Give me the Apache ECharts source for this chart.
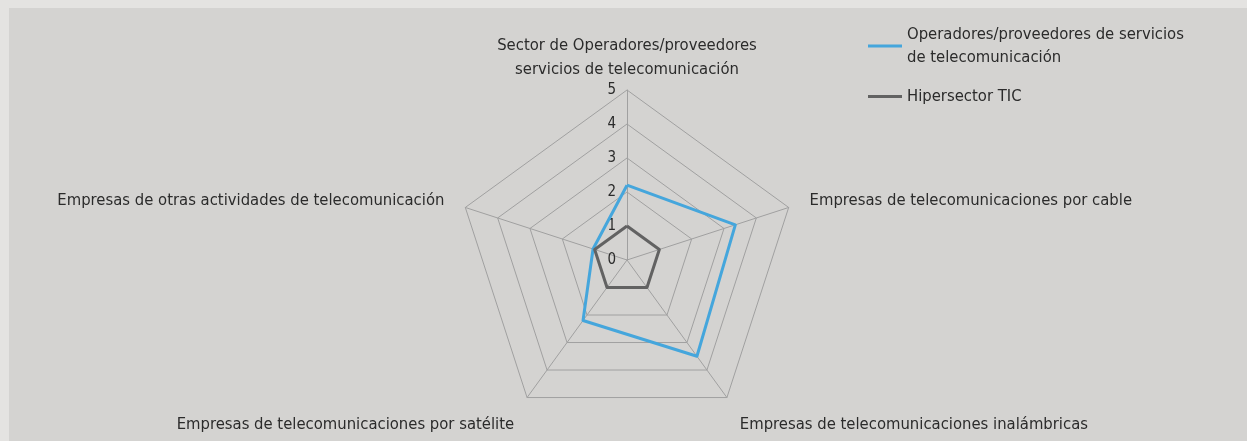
<!DOCTYPE html>
<html>
<head>
<meta charset="utf-8">
<script src="https://cdn.jsdelivr.net/npm/echarts@6/dist/echarts.min.js"></script>
<style>
    html, body { margin: 0; padding: 0; background: #e4e3e1; }
    #radarchart {
        position: absolute;
        left: 9px;
        top: 8px;
        width: 1238px;
        height: 433px;
        background: #d4d3d1;
    }
</style>
</head>
<body>
<div id="radarchart"></div>
<script>
// indicators in echarts order (counter-clockwise from the top)
var indicatorNames = [
    'Sector de Operadores/proveedores\nservicios de telecomunicación',
    'Empresas de otras actividades de telecomunicación',
    'Empresas de telecomunicaciones por satélite',
    'Empresas de telecomunicaciones inalámbricas',
    'Empresas de telecomunicaciones por cable'
];
var seriesNames = ['Operadores/proveedores de servicios\nde telecomunicación', 'Hipersector TIC'];
var operadores = [2.2, 1.05, 2.2, 3.5, 3.35];
var hipersector = [1.0, 1.0, 1.0, 1.0, 1.0];
var axisMax = 5;

var fontFamily = "'Liberation Sans Narrow', 'DejaVu Sans Condensed', sans-serif";
var textColor = '#2b2b2b';
var chart = echarts.init(document.getElementById('radarchart'));

chart.setOption({
    color: ['#45a6dc', '#626262'],
    // top indicator name, placed like the original (closer to the axis end)
    title: {
        text: indicatorNames[0],
        left: 618,
        top: 26,
        padding: 0,
        textAlign: 'center',
        textStyle: { fontFamily: fontFamily, fontSize: 16.5, fontWeight: 'normal', color: textColor, lineHeight: 24 }
    },
    legend: {
        orient: 'vertical',
        left: 854,
        top: 10,
        itemWidth: 34,
        itemHeight: 3,
        itemGap: 16,
        icon: 'rect',
        textStyle: { fontFamily: fontFamily, fontSize: 16.5, color: textColor, lineHeight: 23 },
        data: seriesNames
    },
    radar: {
        center: [618, 252],
        radius: 170,
        startAngle: 90,
        splitNumber: 5,
        shape: 'polygon',
        nameGap: 22,
        axisName: {
            fontFamily: fontFamily,
            fontSize: 16.5,
            color: textColor,
            lineHeight: 18,
            formatter: function (name) {
                if (name === indicatorNames[0]) return '';
                if (name === indicatorNames[2] || name === indicatorNames[3]) return '\n' + name;
                return name;
            }
        },
        axisLine: { lineStyle: { color: '#a0a0a0', width: 1 } },
        splitLine: { lineStyle: { color: '#a0a0a0', width: 1 } },
        splitArea: { show: false },
        axisLabel: { show: false },
        indicator: indicatorNames.map(function (n, i) {
            var ind = { name: n, min: 0, max: axisMax };
            if (i === 0) {
                ind.axisLabel = { show: true, fontFamily: fontFamily, fontSize: 15, color: textColor, margin: 11 };
            }
            return ind;
        })
    },
    series: [{
        type: 'radar',
        symbol: 'none',
        data: [
            { name: seriesNames[0], value: operadores, lineStyle: { width: 3, color: '#45a6dc' } },
            { name: seriesNames[1], value: hipersector, lineStyle: { width: 3, color: '#626262' } }
        ]
    }]
});
</script>
</body>
</html>
